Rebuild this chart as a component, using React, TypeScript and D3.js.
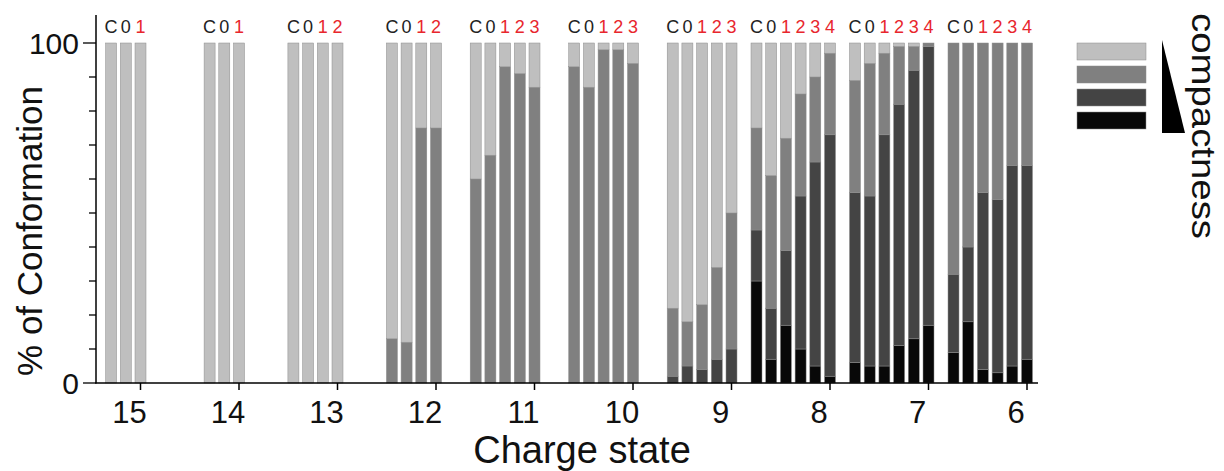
import React from "react";
import * as d3 from "d3";

// charge states, left to right
const chargeStates = ["15", "14", "13", "12", "11", "10", "9", "8", "7", "6"];

// bar labels for each charge state (C = control, numbers = ligand count)
const barLabels = [
  ["C", "0", "1"],
  ["C", "0", "1"],
  ["C", "0", "1", "2"],
  ["C", "0", "1", "2"],
  ["C", "0", "1", "2", "3"],
  ["C", "0", "1", "2", "3"],
  ["C", "0", "1", "2", "3"],
  ["C", "0", "1", "2", "3", "4"],
  ["C", "0", "1", "2", "3", "4"],
  ["C", "0", "1", "2", "3", "4"],
];

// % of each conformer family, most compact first
const blackPct = [
  [0, 0, 0], [0, 0, 0], [0, 0, 0, 0], [0, 0, 0, 0],
  [0, 0, 0, 0, 0], [0, 0, 0, 0, 0], [0, 0, 0, 0, 0],
  [30, 7, 17, 10, 5, 2], [6, 5, 5, 11, 13, 17], [9, 18, 4, 3, 5, 7],
];
const darkPct = [
  [0, 0, 0], [0, 0, 0], [0, 0, 0, 0], [0, 0, 0, 0],
  [0, 0, 0, 0, 0], [0, 0, 0, 0, 0], [2, 5, 4, 7, 10],
  [15, 15, 22, 45, 60, 71], [50, 50, 68, 71, 79, 82], [23, 22, 52, 51, 59, 57],
];
const midPct = [
  [0, 0, 0], [0, 0, 0], [0, 0, 0, 0], [13, 12, 75, 75],
  [60, 67, 93, 91, 87], [93, 87, 98, 98, 94], [20, 13, 19, 27, 40],
  [30, 39, 33, 30, 25, 24], [33, 39, 24, 17, 7, 1], [68, 60, 44, 46, 36, 36],
];
const lightPct = [
  [100, 100, 100], [100, 100, 100], [100, 100, 100, 100], [87, 88, 25, 25],
  [40, 33, 7, 9, 13], [7, 13, 2, 2, 6], [78, 82, 77, 66, 50],
  [25, 39, 28, 15, 10, 3], [11, 6, 3, 1, 1, 0], [0, 0, 0, 0, 0, 0],
];

const yTicks = [0, 10, 20, 30, 40, 50, 60, 70, 80, 90, 100];

const keys = ["black", "dark", "mid", "light"];
const colors = { black: "#080808", dark: "#444444", mid: "#808080", light: "#bfbfbf" };
const labelRed = "#e8262d";
const font = "'Liberation Sans', Arial, sans-serif";

export default function App() {
  const width = 1224;
  const height = 471;
  const barStep = 14.7;
  const barWidth = 11;

  const x = d3.scalePoint().domain(chargeStates).range([140.5, 1027]);
  const y = d3.scaleLinear().domain([0, 100]).range([383, 43]);

  const bars = [];
  chargeStates.forEach((cs, g) => {
    const n = barLabels[g].length;
    barLabels[g].forEach((lab, i) => {
      bars.push({
        cs,
        label: lab,
        cx: x(cs) - (n - 1 - i) * barStep,
        black: blackPct[g][i],
        dark: darkPct[g][i],
        mid: midPct[g][i],
        light: lightPct[g][i],
      });
    });
  });

  const stacked = d3.stack().keys(keys)(bars);

  return (
    <svg
      width={width}
      height={height}
      style={{ position: "absolute", left: 0, top: 0, background: "#fff" }}
      fontFamily={font}
    >
      {stacked.map((layer) => (
        <g key={layer.key} fill={colors[layer.key]}>
          {layer.map((d, i) =>
            d[1] - d[0] > 0 ? (
              <rect
                key={i}
                x={d.data.cx - barWidth / 2}
                width={barWidth}
                y={y(d[1])}
                height={y(d[0]) - y(d[1])}
                stroke="#8c8c8c"
                strokeWidth={0.5}
              />
            ) : null
          )}
        </g>
      ))}

      {/* labels above bars */}
      {bars.map((b, i) => (
        <text
          key={i}
          x={b.cx}
          y={33}
          textAnchor="middle"
          fontSize={18}
          fill={b.label === "C" || b.label === "0" ? "#222" : labelRed}
        >
          {b.label}
        </text>
      ))}

      {/* y axis */}
      <line x1={96} x2={96} y1={15} y2={383.5} stroke="#000" strokeWidth={1.5} />
      {yTicks.map((t) => (
        <line
          key={t}
          x1={t === 0 || t === 100 ? 83 : 89}
          x2={96}
          y1={y(t)}
          y2={y(t)}
          stroke="#000"
          strokeWidth={1.3}
        />
      ))}
      {[0, 100].map((t) => (
        <text key={t} x={79} y={y(t)} dy="0.36em" textAnchor="end" fontSize={30} fill="#111">
          {t}
        </text>
      ))}
      <text
        transform={`translate(42,231) rotate(-90)`}
        textAnchor="middle"
        fontSize={35}
        fill="#111"
      >
        % of Conformation
      </text>

      {/* x axis */}
      <line x1={95.3} x2={1038} y1={383} y2={383} stroke="#000" strokeWidth={1.5} />
      {chargeStates.map((cs) => (
        <g key={cs}>
          <line x1={x(cs)} x2={x(cs)} y1={383} y2={390} stroke="#000" strokeWidth={1.5} />
          <text x={x(cs) - 11} y={423} textAnchor="middle" fontSize={31} fill="#111">
            {cs}
          </text>
        </g>
      ))}
      <text x={582} y={463} textAnchor="middle" fontSize={38} fill="#111">
        Charge state
      </text>

      {/* legend */}
      {keys
        .slice()
        .reverse()
        .map((k, i) => (
          <rect
            key={k}
            x={1077}
            y={43 + i * 23}
            width={69}
            height={17}
            fill={colors[k]}
            stroke="#8c8c8c"
            strokeWidth={0.5}
          />
        ))}
      <path d="M1162,40 L1162,133 L1185,133 Z" fill="#000" />
      <text
        transform={`translate(1192,13) rotate(90)`}
        fontSize={33}
        textLength={226}
        lengthAdjust="spacingAndGlyphs"
        fill="#111"
      >
        compactness
      </text>
    </svg>
  );
}
